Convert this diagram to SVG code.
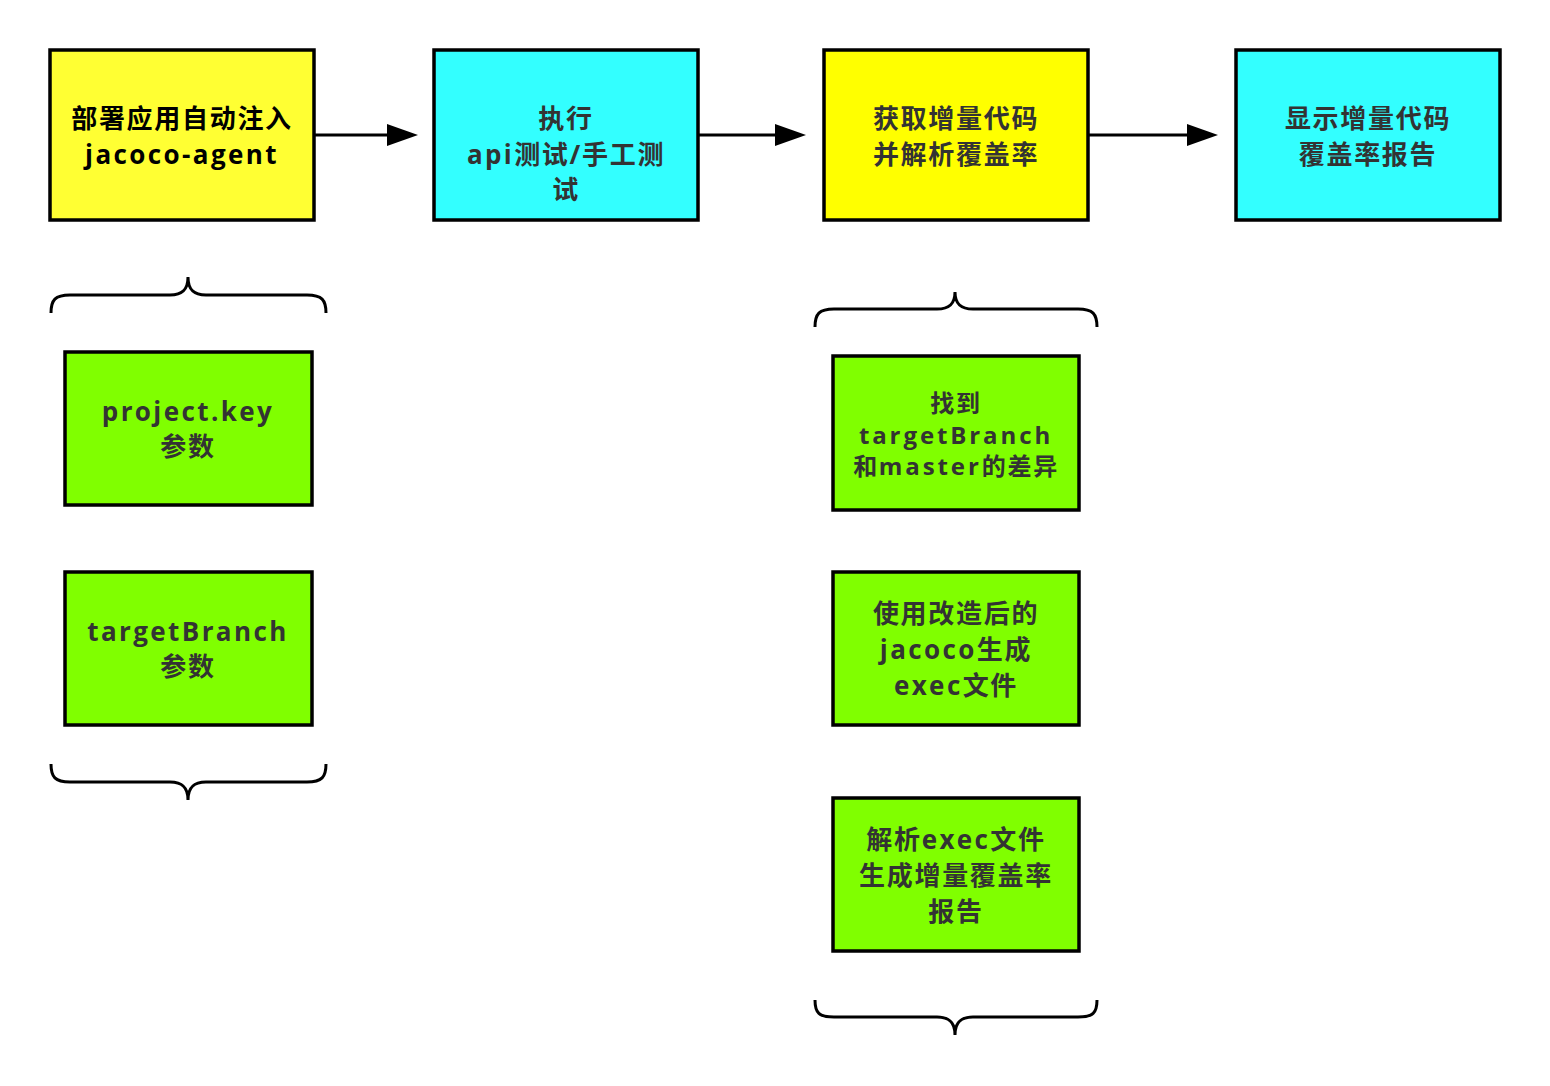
<svg xmlns="http://www.w3.org/2000/svg" width="1550" height="1086" viewBox="0 0 1550 1086">
  <defs>
    <marker id="arrow" viewBox="0 0 31 22" refX="0" refY="11" markerWidth="31" markerHeight="22" markerUnits="userSpaceOnUse" orient="auto">
      <path d="M0,0 L31,11 L0,22 Z" fill="#000"/>
    </marker>
    <style>
      .box { stroke: #000; stroke-width: 3.5; }
      .y1 { fill: #ffff33; }
      .y2 { fill: #ffff00; }
      .cy { fill: #33ffff; }
      .gr { fill: #80ff00; }
      .t { font-family: "Open Sans", "Noto Sans CJK SC", sans-serif; font-weight: bold; font-size: 26px; fill: #333; text-anchor: middle; letter-spacing: 1.7px; }
      .t.blk { fill: #000; }
      .s { font-size: 24px; }
      .lat { letter-spacing: 2.4px; }
      .lat2 { letter-spacing: 2.9px; }
      .edge { stroke: #000; stroke-width: 3; fill: none; }
      .brace { stroke: #000; stroke-width: 3; fill: none; }
    </style>
  </defs>
  <rect width="1550" height="1086" fill="#fff"/>

  <g id="connectors">
    <line class="edge" x1="315" y1="135" x2="387" y2="135" marker-end="url(#arrow)"/>
    <line class="edge" x1="699" y1="135" x2="775" y2="135" marker-end="url(#arrow)"/>
    <line class="edge" x1="1089" y1="135" x2="1187" y2="135" marker-end="url(#arrow)"/>
  </g>

  <g id="braces">
    <path class="brace" d="M51,313 C51,300 55,295 70,295 L170,295 C182,295 188,290 188,277 C188,290 194,295 206,295 L307,295 C322,295 326,300 326,313"/>
    <path class="brace" d="M51,764 C51,777 55,782 70,782 L170,782 C182,782 188,787 188,800 C188,787 194,782 206,782 L307,782 C322,782 326,777 326,764"/>
    <path class="brace" d="M815,327 C815,314 819,309 834,309 L937,309 C949,309 955,304 955,292 C955,304 961,309 973,309 L1078,309 C1093,309 1097,314 1097,327"/>
    <path class="brace" d="M815,1000 C815,1013 819,1017 834,1017 L937,1017 C949,1017 955,1022 955,1035 C955,1022 961,1017 973,1017 L1078,1017 C1093,1017 1097,1013 1097,1000"/>
  </g>

  <g id="deploy">
    <rect class="box y1" x="50" y="50" width="264" height="170"/>
    <text class="t blk" x="182" y="128">部署应用自动注入</text>
    <text class="t blk lat" x="182" y="164">jacoco-agent</text>
  </g>

  <g id="execute">
    <rect class="box cy" x="434" y="50" width="264" height="170"/>
    <text class="t" x="566" y="128">执行</text>
    <text class="t" x="566" y="164"><tspan class="lat">api</tspan>测试/手工测</text>
    <text class="t" x="566" y="199">试</text>
  </g>

  <g id="fetch">
    <rect class="box y2" x="824" y="50" width="264" height="170"/>
    <text class="t" x="956" y="128">获取增量代码</text>
    <text class="t" x="956" y="164">并解析覆盖率</text>
  </g>

  <g id="report">
    <rect class="box cy" x="1236" y="50" width="264" height="170"/>
    <text class="t" x="1368" y="128">显示增量代码</text>
    <text class="t" x="1368" y="164">覆盖率报告</text>
  </g>

  <g id="param-key">
    <rect class="box gr" x="65" y="352" width="247" height="153"/>
    <text class="t lat" x="188" y="421">project.key</text>
    <text class="t" x="188" y="456">参数</text>
  </g>

  <g id="param-branch">
    <rect class="box gr" x="65" y="572" width="247" height="153"/>
    <text class="t lat" x="188" y="641">targetBranch</text>
    <text class="t" x="188" y="676">参数</text>
  </g>

  <g id="diff">
    <rect class="box gr" x="833" y="356" width="246" height="154"/>
    <text class="t s" x="956" y="412">找到</text>
    <text class="t s lat2" x="956" y="444">targetBranch</text>
    <text class="t s" x="956" y="475">和<tspan class="lat2">master</tspan>的差异</text>
  </g>

  <g id="gen-exec">
    <rect class="box gr" x="833" y="572" width="246" height="153"/>
    <text class="t" x="956" y="623">使用改造后的</text>
    <text class="t" x="956" y="659"><tspan class="lat">jacoco</tspan>生成</text>
    <text class="t" x="956" y="695"><tspan class="lat">exec</tspan>文件</text>
  </g>

  <g id="parse-exec">
    <rect class="box gr" x="833" y="798" width="246" height="153"/>
    <text class="t" x="956" y="849">解析<tspan class="lat">exec</tspan>文件</text>
    <text class="t" x="956" y="885">生成增量覆盖率</text>
    <text class="t" x="956" y="921">报告</text>
  </g>
</svg>
